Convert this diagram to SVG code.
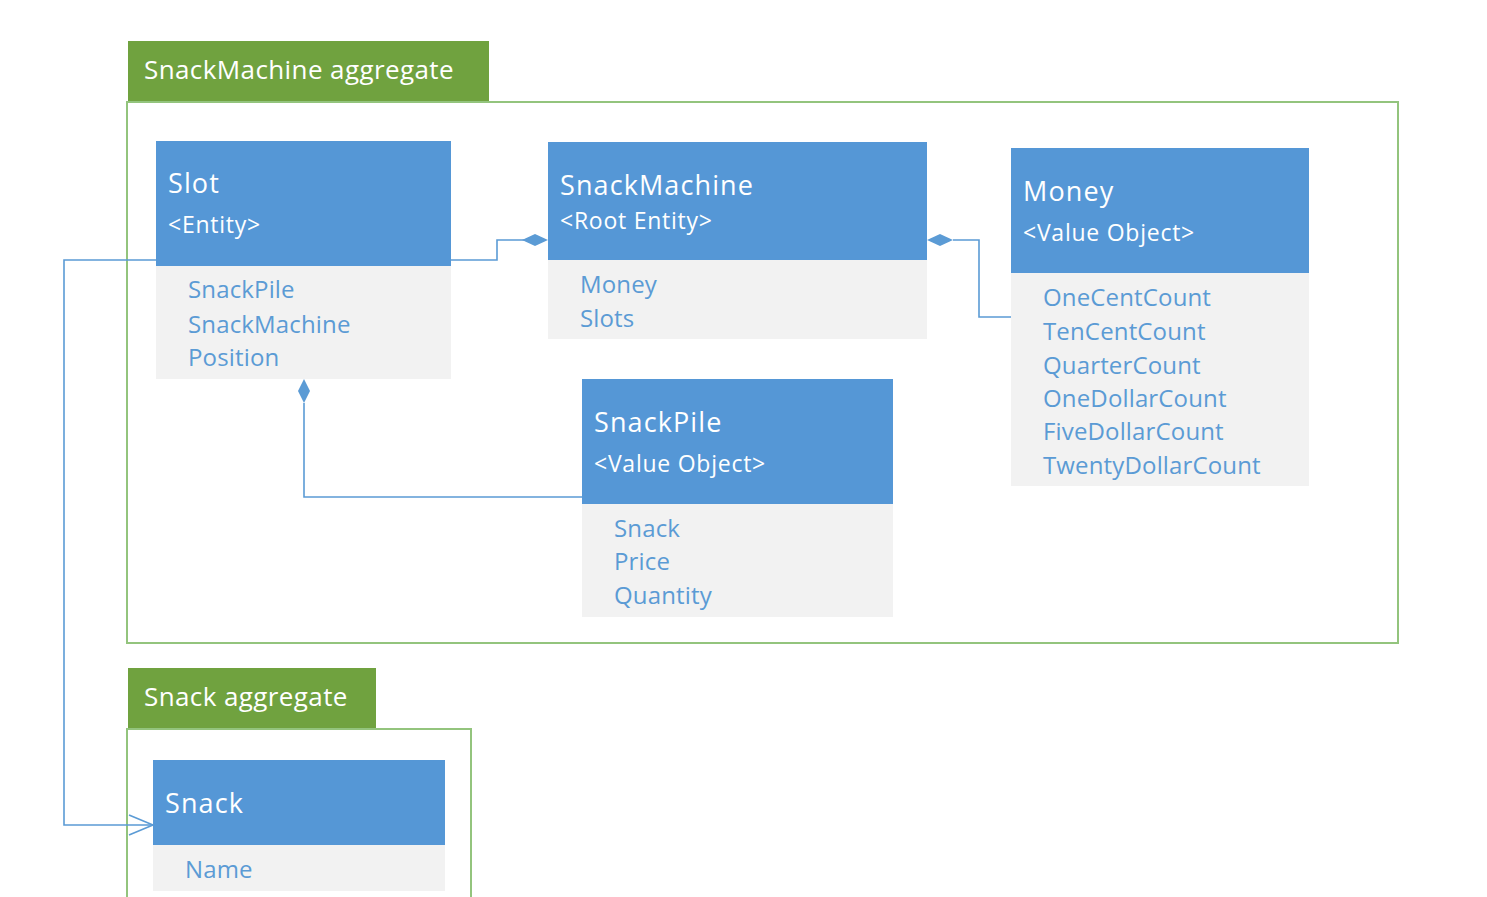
<svg xmlns="http://www.w3.org/2000/svg" width="1487" height="897" viewBox="0 0 1487 897">
  <style>
    .tab { fill: #70a23f; }
    .tabtxt { fill: #ffffff; font-family: "Open Sans", "Noto Sans", sans-serif; font-size: 26px; letter-spacing: 0.4px; }
    .frame { fill: none; stroke: #93c47d; stroke-width: 2; }
    .head { fill: #5597d6; }
    .body { fill: #f2f2f2; }
    .title { fill: #ffffff; font-family: "Open Sans", "Noto Sans", sans-serif; font-size: 27px; letter-spacing: 1.1px; }
    .stereo { fill: #ffffff; font-family: "Open Sans", "Noto Sans", sans-serif; font-size: 23px; letter-spacing: 0.75px; }
    .item { fill: #5b9bd5; font-family: "Open Sans", "Noto Sans", sans-serif; font-size: 24px; letter-spacing: 0.15px; }
    .link { fill: none; stroke: #5b9bd5; stroke-width: 1.6; }
    .diamond { fill: #5b9bd5; stroke: none; }
  </style>
  <defs>
    <marker id="open-arrow" markerWidth="28" markerHeight="24" refX="25" refY="12" orient="auto" markerUnits="userSpaceOnUse">
      <path d="M1,2 L25,12 L1,22" fill="none" stroke="#5b9bd5" stroke-width="1.6"/>
    </marker>
  </defs>
  <rect width="1487" height="897" fill="#ffffff"/>

  <!-- SnackMachine aggregate boundary -->
  <g id="snackmachine-aggregate">
    <rect class="tab" x="128" y="41" width="361" height="60"/>
    <text class="tabtxt" x="144" y="79">SnackMachine aggregate</text>
    <rect class="frame" x="127" y="102" width="1271" height="541"/>
  </g>

  <!-- Snack aggregate boundary -->
  <g id="snack-aggregate">
    <rect class="tab" x="128" y="668" width="248" height="60"/>
    <text class="tabtxt" x="144" y="706">Snack aggregate</text>
    <path class="frame" d="M127,900 V729 H471 V900"/>
  </g>

  <!-- Connectors -->
  <g id="connectors">
    <!-- Slot composed into SnackMachine -->
    <path class="link" d="M451,260 H497 V240 H524"/>
    <path class="diamond" d="M522,240 L535,234 L548,240 L535,246 Z"/>
    <!-- Money composed into SnackMachine -->
    <path class="link" d="M953,240 H979 V317 H1011"/>
    <path class="diamond" d="M927,240 L940,234 L953,240 L940,246 Z"/>
    <!-- SnackPile composed into Slot -->
    <path class="link" d="M304,403 V497 H582"/>
    <path class="diamond" d="M304,379 L310,391 L304,403 L298,391 Z"/>
    <!-- Slot references Snack -->
    <path class="link" d="M156,260 H64 V825 H153" marker-end="url(#open-arrow)"/>
  </g>

  <!-- Slot -->
  <g id="slot">
    <rect class="head" x="156" y="141" width="295" height="125"/>
    <rect class="body" x="156" y="266" width="295" height="113"/>
    <text class="title" x="168" y="193">Slot</text>
    <text class="stereo" x="168" y="233">&lt;Entity&gt;</text>
    <text class="item" x="188" y="298">SnackPile</text>
    <text class="item" x="188" y="333">SnackMachine</text>
    <text class="item" x="188" y="366">Position</text>
  </g>

  <!-- SnackMachine -->
  <g id="snackmachine">
    <rect class="head" x="548" y="142" width="379" height="118"/>
    <rect class="body" x="548" y="260" width="379" height="79"/>
    <text class="title" x="560" y="195">SnackMachine</text>
    <text class="stereo" x="560" y="229">&lt;Root Entity&gt;</text>
    <text class="item" x="580" y="293">Money</text>
    <text class="item" x="580" y="327">Slots</text>
  </g>

  <!-- Money -->
  <g id="money">
    <rect class="head" x="1011" y="148" width="298" height="125"/>
    <rect class="body" x="1011" y="273" width="298" height="213"/>
    <text class="title" x="1023" y="201">Money</text>
    <text class="stereo" x="1023" y="241">&lt;Value Object&gt;</text>
    <text class="item" x="1043" y="306">OneCentCount</text>
    <text class="item" x="1043" y="340">TenCentCount</text>
    <text class="item" x="1043" y="374">QuarterCount</text>
    <text class="item" x="1043" y="407">OneDollarCount</text>
    <text class="item" x="1043" y="440">FiveDollarCount</text>
    <text class="item" x="1043" y="474">TwentyDollarCount</text>
  </g>

  <!-- SnackPile -->
  <g id="snackpile">
    <rect class="head" x="582" y="379" width="311" height="125"/>
    <rect class="body" x="582" y="504" width="311" height="113"/>
    <text class="title" x="594" y="432">SnackPile</text>
    <text class="stereo" x="594" y="472">&lt;Value Object&gt;</text>
    <text class="item" x="614" y="537">Snack</text>
    <text class="item" x="614" y="570">Price</text>
    <text class="item" x="614" y="604">Quantity</text>
  </g>

  <!-- Snack -->
  <g id="snack">
    <rect class="head" x="153" y="760" width="292" height="85"/>
    <rect class="body" x="153" y="845" width="292" height="46"/>
    <text class="title" x="165" y="813">Snack</text>
    <text class="item" x="185" y="878">Name</text>
  </g>
</svg>
